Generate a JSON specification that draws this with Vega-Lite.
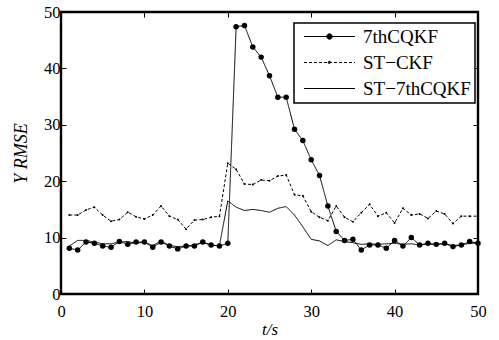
{
  "$schema": "https://vega.github.io/schema/vega-lite/v6.json",
  "width": 417,
  "height": 282,
  "autosize": {"type": "none"},
  "padding": {"left": 61, "top": 12, "right": 21, "bottom": 46},
  "background": "white",
  "config": {
    "view": {"stroke": "black", "strokeWidth": 2.4},
    "font": "Liberation Serif",
    "axis": {
      "grid": false,
      "domain": false,
      "tickSize": -5,
      "tickColor": "black",
      "tickWidth": 1,
      "labelFont": "Liberation Serif",
      "labelFontSize": 16.5,
      "labelColor": "black",
      "labelFlush": false,
      "labelOverlap": false,
      "titleFont": "Liberation Serif",
      "titleFontSize": 18,
      "titleFontWeight": "normal",
      "titleColor": "black"
    }
  },
  "data": {
    "values": [
      {"t":1,"s":"7thCQKF","v":8.1},{"t":2,"s":"7thCQKF","v":7.8},{"t":3,"s":"7thCQKF","v":9.2},{"t":4,"s":"7thCQKF","v":9.0},{"t":5,"s":"7thCQKF","v":8.5},
      {"t":6,"s":"7thCQKF","v":8.3},{"t":7,"s":"7thCQKF","v":9.3},{"t":8,"s":"7thCQKF","v":8.8},{"t":9,"s":"7thCQKF","v":9.2},{"t":10,"s":"7thCQKF","v":9.2},
      {"t":11,"s":"7thCQKF","v":8.3},{"t":12,"s":"7thCQKF","v":9.2},{"t":13,"s":"7thCQKF","v":8.5},{"t":14,"s":"7thCQKF","v":8.0},{"t":15,"s":"7thCQKF","v":8.5},
      {"t":16,"s":"7thCQKF","v":8.5},{"t":17,"s":"7thCQKF","v":9.2},{"t":18,"s":"7thCQKF","v":8.7},{"t":19,"s":"7thCQKF","v":8.5},{"t":20,"s":"7thCQKF","v":9.0},
      {"t":21,"s":"7thCQKF","v":47.4},{"t":22,"s":"7thCQKF","v":47.6},{"t":23,"s":"7thCQKF","v":43.8},{"t":24,"s":"7thCQKF","v":42.0},{"t":25,"s":"7thCQKF","v":38.7},
      {"t":26,"s":"7thCQKF","v":34.9},{"t":27,"s":"7thCQKF","v":34.9},{"t":28,"s":"7thCQKF","v":29.2},{"t":29,"s":"7thCQKF","v":27.2},{"t":30,"s":"7thCQKF","v":23.8},
      {"t":31,"s":"7thCQKF","v":21.0},{"t":32,"s":"7thCQKF","v":15.6},{"t":33,"s":"7thCQKF","v":11.1},{"t":34,"s":"7thCQKF","v":9.5},{"t":35,"s":"7thCQKF","v":9.7},
      {"t":36,"s":"7thCQKF","v":7.8},{"t":37,"s":"7thCQKF","v":8.7},{"t":38,"s":"7thCQKF","v":8.7},{"t":39,"s":"7thCQKF","v":8.1},{"t":40,"s":"7thCQKF","v":9.5},
      {"t":41,"s":"7thCQKF","v":8.5},{"t":42,"s":"7thCQKF","v":10.0},{"t":43,"s":"7thCQKF","v":8.7},{"t":44,"s":"7thCQKF","v":9.0},{"t":45,"s":"7thCQKF","v":8.8},
      {"t":46,"s":"7thCQKF","v":9.0},{"t":47,"s":"7thCQKF","v":8.4},{"t":48,"s":"7thCQKF","v":8.7},{"t":49,"s":"7thCQKF","v":9.3},{"t":50,"s":"7thCQKF","v":9.0},

      {"t":1,"s":"ST−CKF","v":14.0},{"t":2,"s":"ST−CKF","v":14.0},{"t":3,"s":"ST−CKF","v":14.9},{"t":4,"s":"ST−CKF","v":15.4},{"t":5,"s":"ST−CKF","v":14.0},
      {"t":6,"s":"ST−CKF","v":12.9},{"t":7,"s":"ST−CKF","v":13.2},{"t":8,"s":"ST−CKF","v":14.5},{"t":9,"s":"ST−CKF","v":13.7},{"t":10,"s":"ST−CKF","v":13.3},
      {"t":11,"s":"ST−CKF","v":14.0},{"t":12,"s":"ST−CKF","v":15.6},{"t":13,"s":"ST−CKF","v":13.8},{"t":14,"s":"ST−CKF","v":13.2},{"t":15,"s":"ST−CKF","v":11.5},
      {"t":16,"s":"ST−CKF","v":13.1},{"t":17,"s":"ST−CKF","v":13.2},{"t":18,"s":"ST−CKF","v":13.6},{"t":19,"s":"ST−CKF","v":13.8},{"t":20,"s":"ST−CKF","v":23.2},
      {"t":21,"s":"ST−CKF","v":22.1},{"t":22,"s":"ST−CKF","v":19.5},{"t":23,"s":"ST−CKF","v":19.4},{"t":24,"s":"ST−CKF","v":20.2},{"t":25,"s":"ST−CKF","v":20.1},
      {"t":26,"s":"ST−CKF","v":20.9},{"t":27,"s":"ST−CKF","v":21.1},{"t":28,"s":"ST−CKF","v":17.6},{"t":29,"s":"ST−CKF","v":17.4},{"t":30,"s":"ST−CKF","v":14.6},
      {"t":31,"s":"ST−CKF","v":13.6},{"t":32,"s":"ST−CKF","v":13.0},{"t":33,"s":"ST−CKF","v":15.6},{"t":34,"s":"ST−CKF","v":13.6},{"t":35,"s":"ST−CKF","v":12.8},
      {"t":36,"s":"ST−CKF","v":14.4},{"t":37,"s":"ST−CKF","v":15.9},{"t":38,"s":"ST−CKF","v":13.8},{"t":39,"s":"ST−CKF","v":14.4},{"t":40,"s":"ST−CKF","v":12.6},
      {"t":41,"s":"ST−CKF","v":15.2},{"t":42,"s":"ST−CKF","v":14.0},{"t":43,"s":"ST−CKF","v":14.2},{"t":44,"s":"ST−CKF","v":13.4},{"t":45,"s":"ST−CKF","v":14.7},
      {"t":46,"s":"ST−CKF","v":14.2},{"t":47,"s":"ST−CKF","v":12.5},{"t":48,"s":"ST−CKF","v":13.8},{"t":49,"s":"ST−CKF","v":13.8},{"t":50,"s":"ST−CKF","v":13.8},

      {"t":1,"s":"ST−7thCQKF","v":8.5},{"t":2,"s":"ST−7thCQKF","v":9.5},{"t":3,"s":"ST−7thCQKF","v":9.5},{"t":4,"s":"ST−7thCQKF","v":9.2},{"t":5,"s":"ST−7thCQKF","v":8.9},
      {"t":6,"s":"ST−7thCQKF","v":8.9},{"t":7,"s":"ST−7thCQKF","v":9.2},{"t":8,"s":"ST−7thCQKF","v":9.3},{"t":9,"s":"ST−7thCQKF","v":9.0},{"t":10,"s":"ST−7thCQKF","v":9.2},
      {"t":11,"s":"ST−7thCQKF","v":8.6},{"t":12,"s":"ST−7thCQKF","v":9.4},{"t":13,"s":"ST−7thCQKF","v":8.6},{"t":14,"s":"ST−7thCQKF","v":8.4},{"t":15,"s":"ST−7thCQKF","v":8.5},
      {"t":16,"s":"ST−7thCQKF","v":8.7},{"t":17,"s":"ST−7thCQKF","v":9.2},{"t":18,"s":"ST−7thCQKF","v":8.6},{"t":19,"s":"ST−7thCQKF","v":8.6},{"t":20,"s":"ST−7thCQKF","v":16.5},
      {"t":21,"s":"ST−7thCQKF","v":15.4},{"t":22,"s":"ST−7thCQKF","v":14.8},{"t":23,"s":"ST−7thCQKF","v":15.0},{"t":24,"s":"ST−7thCQKF","v":14.8},{"t":25,"s":"ST−7thCQKF","v":14.5},
      {"t":26,"s":"ST−7thCQKF","v":15.2},{"t":27,"s":"ST−7thCQKF","v":15.5},{"t":28,"s":"ST−7thCQKF","v":14.0},{"t":29,"s":"ST−7thCQKF","v":11.9},{"t":30,"s":"ST−7thCQKF","v":9.7},
      {"t":31,"s":"ST−7thCQKF","v":9.4},{"t":32,"s":"ST−7thCQKF","v":8.6},{"t":33,"s":"ST−7thCQKF","v":9.6},{"t":34,"s":"ST−7thCQKF","v":9.3},{"t":35,"s":"ST−7thCQKF","v":9.1},
      {"t":36,"s":"ST−7thCQKF","v":8.8},{"t":37,"s":"ST−7thCQKF","v":8.9},{"t":38,"s":"ST−7thCQKF","v":8.8},{"t":39,"s":"ST−7thCQKF","v":8.9},{"t":40,"s":"ST−7thCQKF","v":9.0},
      {"t":41,"s":"ST−7thCQKF","v":8.8},{"t":42,"s":"ST−7thCQKF","v":8.9},{"t":43,"s":"ST−7thCQKF","v":8.7},{"t":44,"s":"ST−7thCQKF","v":8.8},{"t":45,"s":"ST−7thCQKF","v":8.8},
      {"t":46,"s":"ST−7thCQKF","v":8.9},{"t":47,"s":"ST−7thCQKF","v":8.6},{"t":48,"s":"ST−7thCQKF","v":8.7},{"t":49,"s":"ST−7thCQKF","v":9.0},{"t":50,"s":"ST−7thCQKF","v":9.0}
    ]
  },
  "layer": [
    {
      "mark": {"type": "line", "stroke": "black", "strokeWidth": 1},
      "encoding": {
        "x": {
          "field": "t", "type": "quantitative",
          "scale": {"domain": [0, 50], "nice": false, "zero": false},
          "axis": {"orient": "bottom", "values": [0, 10, 20, 30, 40, 50], "labelPadding": 14, "title": "t/s", "titleFontStyle": "italic", "titleFontSize": 17, "titlePadding": 2}
        },
        "y": {
          "field": "v", "type": "quantitative",
          "scale": {"domain": [0, 50], "nice": false, "zero": false},
          "axis": {"orient": "left", "values": [0, 10, 20, 30, 40, 50], "labelPadding": 6, "title": "Y RMSE", "titleFontStyle": "italic", "titlePadding": 13}
        },
        "strokeDash": {
          "field": "s", "type": "nominal",
          "scale": {"domain": ["7thCQKF", "ST−CKF", "ST−7thCQKF"], "range": [[1, 0], [3, 2], [1, 0]]},
          "legend": {
            "title": null,
            "orient": "none",
            "legendX": 233,
            "legendY": 11,
            "strokeColor": "black",
            "fillColor": "white",
            "padding": 4,
            "rowPadding": 6,
            "labelFont": "Liberation Serif",
            "labelFontSize": 19,
            "labelColor": "black",
            "labelLimit": 300,
            "symbolSize": 100,
            "symbolStrokeWidth": 1,
            "symbolStrokeColor": "black",
            "symbolFillColor": "black",
            "symbolOffset": 22,
            "labelOffset": 24,
            "encode": {
              "legend": {"update": {"strokeWidth": {"value": 1.5}}},
              "symbols": {
                "update": {
                  "shape": {"signal": "datum.value === '7thCQKF' ? 'M-5.1,0H5.1M-0.54,0A0.54,0.54,0,1,1,0.54,0A0.54,0.54,0,1,1,-0.54,0Z' : (datum.value === 'ST−CKF' ? 'M-5.1,0H5.1M-0.24,0A0.24,0.24,0,1,1,0.24,0A0.24,0.24,0,1,1,-0.24,0Z' : 'M-5.1,0H5.1')"},
                  "fill": {"value": "black"},
                  "stroke": {"value": "black"},
                  "opacity": {"value": 1}
                }
              }
            }
          }
        },
        "detail": {"field": "s"}
      }
    },
    {
      "transform": [{"filter": "datum.s === 'ST−CKF'"}],
      "mark": {"type": "point", "filled": true, "fill": "black", "size": 4, "opacity": 1, "strokeWidth": 0},
      "encoding": {
        "x": {"field": "t", "type": "quantitative", "axis": {"orient": "top", "values": [0, 10, 20, 30, 40, 50], "labels": false, "title": null}},
        "y": {"field": "v", "type": "quantitative", "axis": {"orient": "right", "values": [0, 10, 20, 30, 40, 50], "labels": false, "title": null}}
      }
    },
    {
      "transform": [{"filter": "datum.s === '7thCQKF'"}],
      "mark": {"type": "point", "filled": true, "fill": "black", "size": 30, "opacity": 1, "strokeWidth": 0},
      "encoding": {
        "x": {"field": "t", "type": "quantitative", "axis": null},
        "y": {"field": "v", "type": "quantitative", "axis": null}
      }
    }
  ],
  "resolve": {"axis": {"x": "independent", "y": "independent"}}
}
